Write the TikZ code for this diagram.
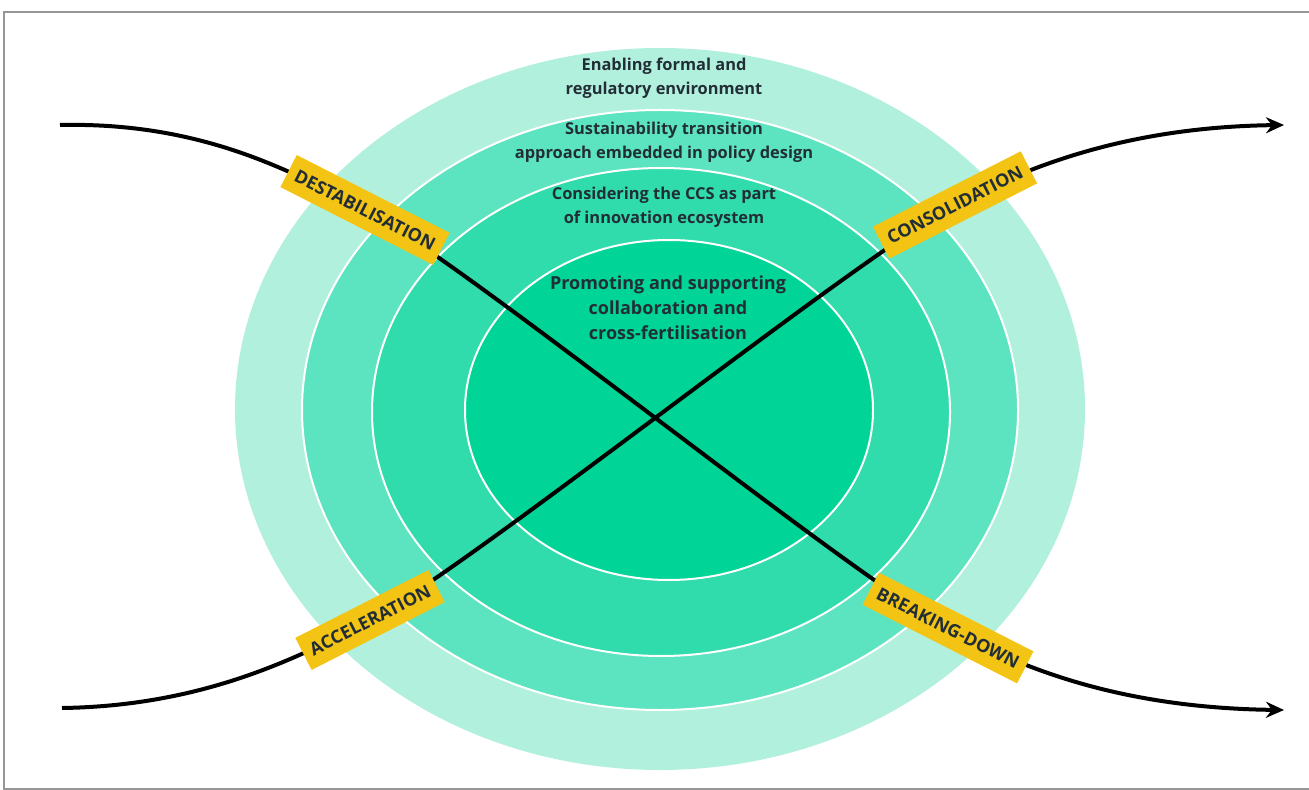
\documentclass[tikz,border=0pt]{standalone}
\usepackage{fontspec}
\setmainfont{Open Sans}
\usetikzlibrary{arrows.meta}
\definecolor{ringA}{RGB}{178,240,222}
\definecolor{ringB}{RGB}{92,227,192}
\definecolor{ringC}{RGB}{48,219,172}
\definecolor{ringD}{RGB}{0,212,150}
\definecolor{phaseyellow}{RGB}{244,196,20}
\definecolor{textgray}{RGB}{34,46,54}
\definecolor{framegray}{RGB}{150,150,150}
\tikzstyle{ring} = [draw=white, line width=1pt]
\tikzstyle{ringtext} = [align=center, text=textgray,
font=\bfseries\fontsize{8.2}{11.8}\selectfont]
\tikzstyle{phase} = [rectangle, fill=phaseyellow, text=textgray,
minimum height=18pt, inner xsep=4pt, inner ysep=2pt,
font=\bfseries\fontsize{9}{10}\selectfont]
\tikzstyle{arrow} = [line width=2pt, -{Stealth[length=9pt,width=8pt]}]
\tikzstyle{line} = [line width=2pt]

\begin{document}
\begin{tikzpicture}[x=0.5pt, y=-0.5pt]
        \useasboundingbox (0,0) rectangle (1309,790);
        \draw [framegray, line width=1pt] (4,12) rectangle (1330,789);
        % rings
        \fill [ringA] (660,409) ellipse [x radius=425, y radius=361];
        \filldraw [ring, fill=ringB] (660,410) ellipse [x radius=358, y radius=300];
        \filldraw [ring, fill=ringC] (661,412) ellipse [x radius=289, y radius=244];
        \filldraw [ring, fill=ringD] (669,410) ellipse [x radius=204, y radius=170];
        \node (env) [ringtext] at (664,78) {Enabling formal and\\regulatory environment};
        \node (policy) [ringtext] at (664,142) {Sustainability transition\\approach embedded in policy design};
        \node (eco) [ringtext] at (664,207) {Considering the CCS as part\\of innovation ecosystem};
        \node (collab) [ringtext, font=\bfseries\fontsize{9}{12.5}\selectfont] at (668,308) {Promoting and supporting\\collaboration and\\cross-fertilisation};
        % phases
        \coordinate (dstart) at (60,125);
        \coordinate (pdestab) at (365,210);
        \coordinate (pbreak) at (948,628);
        \coordinate (dend) at (1284,710);
        \coordinate (astart) at (62,708);
        \coordinate (paccel) at (370,620);
        \coordinate (pcons) at (955,205);
        \coordinate (aend) at (1284,125);
        \draw [line] (dstart) .. controls (200,122) and (290,170) .. (pdestab);
        \draw [line] (pdestab) .. controls (470,267) and (845,572) .. (pbreak);
        \draw [arrow] (pbreak) .. controls (1020,668) and (1120,708) .. (dend);
        \draw [line] (astart) .. controls (200,706) and (295,660) .. (paccel);
        \draw [line] (paccel) .. controls (475,563) and (850,262) .. (pcons);
        \draw [arrow] (pcons) .. controls (1030,165) and (1130,127) .. (aend);
        \node (destab) [phase, rotate=-27] at (pdestab) {DESTABILISATION};
        \node (breakdown) [phase, rotate=-27] at (pbreak) {BREAKING-DOWN};
        \node (accel) [phase, rotate=27] at (paccel) {ACCELERATION};
        \node (cons) [phase, rotate=27] at (pcons) {CONSOLIDATION};
    \end{tikzpicture}
\end{document}
